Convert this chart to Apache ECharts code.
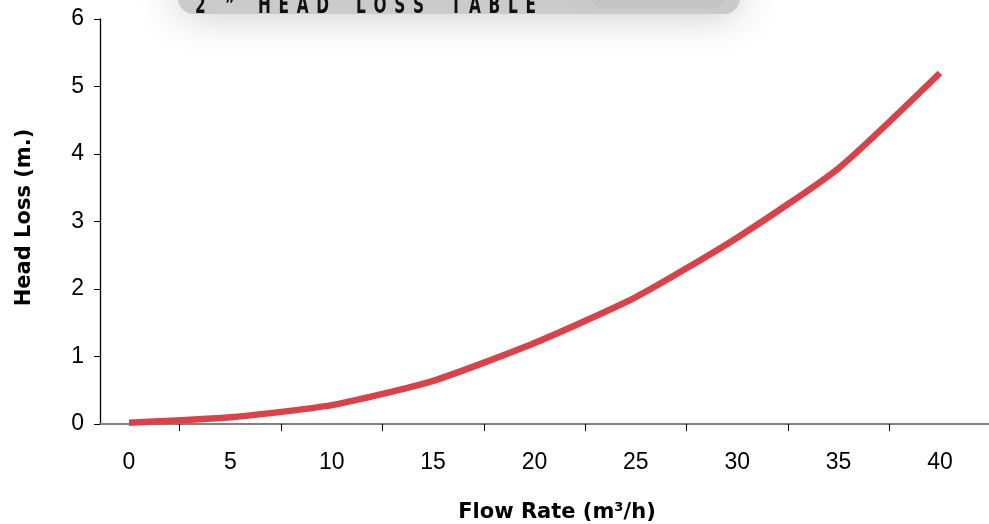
<!DOCTYPE html>
<html>
<head>
<meta charset="utf-8">
<script src="https://cdn.jsdelivr.net/npm/echarts@6/dist/echarts.min.js"></script>
<style>html,body{margin:0;padding:0;background:#fff;overflow:hidden}#c{width:989px;height:524px}</style>
</head>
<body>
<div id="c"></div>
<script>
var flowRates = [0, 5, 10, 15, 20, 25, 30, 35, 40];
var headLoss = [0.02, 0.1, 0.28, 0.64, 1.2, 1.88, 2.76, 3.79, 5.2];
var xTickValues = [2.5, 7.5, 12.5, 17.5, 22.5, 27.5, 32.5, 37.5];
var xLabelValues = [0, 5, 10, 15, 20, 25, 30, 35, 40];
var G = '\u2002', W = '\u2003\u2002\u2005';
var titleText = '2' + '\u2003\u2005' + '\u201D' + '\u2003\u2002' +
  ['H','E','A','D'].join(G) + W + ['L','O','S','S'].join(G) + W + ['T','A','B','L','E'].join(G);

var chart = echarts.init(document.getElementById('c'));
var seriesData = flowRates.map(function (x, i) { return [x, headLoss[i]]; });
var font = '"Liberation Sans", Arial, Helvetica, sans-serif';
var titleFont = '"DejaVu Sans", "Liberation Sans", sans-serif';
chart.setOption({
  animation: false,
  backgroundColor: '#fff',
  graphic: [
    {
      type: 'rect', z: 0, silent: true,
      shape: { x: 178, y: -40, width: 562, height: 54, r: 16 },
      style: {
        fill: '#cbcbcb',
        shadowBlur: 44, shadowColor: 'rgba(200,200,200,1)'
      }
    },
    {
      type: 'rect', z: 0, silent: true,
      shape: { x: 590, y: -20, width: 135, height: 28, r: 12 },
      style: { fill: 'rgba(185,185,185,0.3)', shadowBlur: 24, shadowColor: 'rgba(185,185,185,0.5)' }
    },
    {
      type: 'text', z: 10, silent: true,
      x: 195, y: 7, scaleX: 0.64,
      style: {
        x: 0, y: 0,
        text: titleText,
        fill: '#111',
        verticalAlign: 'middle',
        font: 'bold 24px "DejaVu Sans", sans-serif'
      }
    }
  ],
  grid: { left: 100, right: -1, top: 19, height: 405, containLabel: false, outerBoundsMode: 'none' },
  xAxis: {
    type: 'value',
    min: -1.43,
    max: 42.47,
    name: 'Flow Rate (m\u00B3/h)',
    nameLocation: 'middle',
    nameGap: 78,
    nameTextStyle: { fontFamily: titleFont, fontWeight: 'bold', fontSize: 21, color: '#000', padding: [0, 0, 0, 24] },
    axisLine: { show: true, onZero: false, lineStyle: { color: '#808080', width: 2 } },
    axisTick: { show: true, customValues: xTickValues, length: 7, lineStyle: { color: '#000', width: 1 } },
    axisLabel: { customValues: xLabelValues, margin: 27, fontFamily: font, fontSize: 23, color: '#000' },
    splitLine: { show: false }
  },
  yAxis: {
    type: 'value',
    min: 0, max: 6, interval: 1,
    name: 'Head Loss (m.)',
    nameLocation: 'middle',
    nameGap: 65,
    nameTextStyle: { fontFamily: titleFont, fontWeight: 'bold', fontSize: 21, color: '#000', padding: [0, 0, 0, 8] },
    axisLine: { show: true, onZero: false, lineStyle: { color: '#000', width: 1.3 } },
    axisTick: { show: true, length: 6, lineStyle: { color: '#000' } },
    axisLabel: { margin: 16, fontFamily: font, fontSize: 23, color: '#000', padding: [4, 0, 0, 0] },
    splitLine: { show: false }
  },
  series: [{
    type: 'line',
    data: seriesData,
    smooth: 0.2,
    symbol: 'none',
    z: 5,
    lineStyle: { color: '#dc4148', width: 6.5 }
  }]
});
</script>
</body>
</html>
